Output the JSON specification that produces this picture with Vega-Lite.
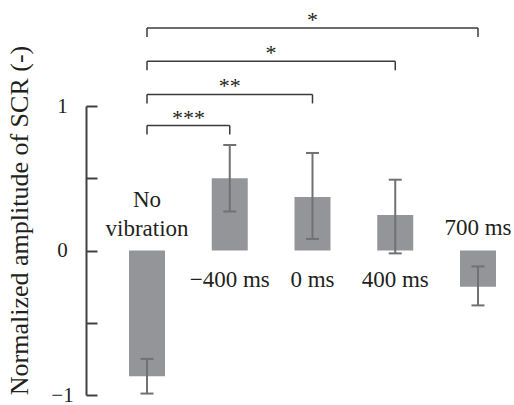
{
  "$schema": "https://vega.github.io/schema/vega-lite/v6.json",
  "width": 400,
  "height": 289,
  "autosize": {"type": "none"},
  "padding": {"left": 112, "top": 106, "right": 2, "bottom": 10},
  "background": "white",
  "config": {"view": {"stroke": null}, "font": "Liberation Serif"},
  "datasets": {
    "bars": [
      {"condition": "No\nvibration", "order": 1, "mean": -0.87, "lo": -0.99, "hi": -0.75},
      {"condition": "−400 ms", "order": 2, "mean": 0.5, "lo": 0.27, "hi": 0.73},
      {"condition": "0 ms", "order": 3, "mean": 0.37, "lo": 0.08, "hi": 0.675},
      {"condition": "400 ms", "order": 4, "mean": 0.245, "lo": -0.02, "hi": 0.49},
      {"condition": "700 ms", "order": 5, "mean": -0.25, "lo": -0.38, "hi": -0.11}
    ],
    "brackets": [
      {"from": 1, "to": 2, "level": 0.865, "stars": "***"},
      {"from": 1, "to": 3, "level": 1.08, "stars": "**"},
      {"from": 1, "to": 4, "level": 1.31, "stars": "*"},
      {"from": 1, "to": 5, "level": 1.54, "stars": "*"}
    ]
  },
  "layer": [
    {
      "data": {"name": "bars"},
      "mark": {"type": "bar", "width": 36, "color": "#939598"},
      "encoding": {
        "x": {"field": "order", "type": "quantitative", "scale": {"domain": [0.577, 5.411], "nice": false, "zero": false, "padding": 0}, "axis": null},
        "y": {
          "field": "mean", "type": "quantitative",
          "scale": {"domain": [-1, 1], "nice": false, "padding": 0},
          "axis": {
            "title": "Normalized amplitude of SCR (-)",
            "values": [-1, -0.5, 0, 0.5, 1],
            "labelExpr": "datum.value === 1 ? '1' : datum.value === 0 ? '0' : datum.value === -1 ? '−1' : ''",
            "offset": 26,
            "tickSize": -11,
            "labelPadding": 35,
            "labelAlign": "center",
            "labelFont": "Liberation Serif",
            "labelFontSize": 21,
            "labelColor": "#231f20",
            "grid": false,
            "domainColor": "#414042",
            "domainWidth": 2,
            "tickColor": "#414042",
            "tickWidth": 2,
            "titleFont": "Liberation Serif",
            "titleFontSize": 26,
            "titleFontWeight": "normal",
            "titleColor": "#231f20",
            "titleX": -59,
            "titleY": 114,
            "titleAngle": -90,
            "titleAlign": "center",
            "titleBaseline": "alphabetic",
            "titleLimit": 1000
          }
        }
      }
    },
    {
      "data": {"name": "bars"},
      "mark": {"type": "rule", "color": "#707173", "strokeWidth": 2},
      "encoding": {
        "x": {"field": "order", "type": "quantitative"},
        "y": {"field": "lo", "type": "quantitative"},
        "y2": {"field": "hi"}
      }
    },
    {
      "data": {"name": "bars"},
      "transform": [{"fold": ["lo", "hi"], "as": ["end", "val"]}],
      "mark": {"type": "tick", "orient": "horizontal", "size": 13, "thickness": 2, "color": "#707173", "opacity": 1},
      "encoding": {
        "x": {"field": "order", "type": "quantitative"},
        "y": {"field": "val", "type": "quantitative"}
      }
    },
    {
      "mark": {"type": "rule", "color": "#3a3a3c", "strokeWidth": 2},
      "encoding": {"y": {"datum": 0}, "x": {"value": 0}, "x2": {"value": "width"}}
    },
    {
      "data": {"name": "brackets"},
      "mark": {"type": "rule", "color": "#3a3a3c", "strokeWidth": 1.5},
      "encoding": {
        "x": {"field": "from", "type": "quantitative"},
        "x2": {"field": "to"},
        "y": {"field": "level", "type": "quantitative"}
      }
    },
    {
      "data": {"name": "brackets"},
      "transform": [{"fold": ["from", "to"], "as": ["side", "xpos"]}],
      "mark": {"type": "rule", "color": "#3a3a3c", "strokeWidth": 1.5, "y2Offset": 9},
      "encoding": {
        "x": {"field": "xpos", "type": "quantitative"},
        "y": {"field": "level", "type": "quantitative"},
        "y2": {"field": "level"}
      }
    },
    {
      "data": {"name": "brackets"},
      "transform": [{"fold": ["from", "to"], "as": ["side", "xpos"]}],
      "mark": {"type": "text", "fontSize": 22, "baseline": "alphabetic", "align": "center", "dy": -1, "color": "#231f20"},
      "encoding": {
        "x": {"aggregate": "mean", "field": "xpos", "type": "quantitative"},
        "y": {"field": "level", "type": "quantitative"},
        "text": {"field": "stars", "type": "nominal"}
      }
    },
    {
      "data": {"name": "bars"},
      "transform": [{"filter": "datum.mean > 0"}],
      "mark": {"type": "text", "fontSize": 23, "baseline": "alphabetic", "align": "center", "dy": 36, "color": "#231f20"},
      "encoding": {
        "x": {"field": "order", "type": "quantitative"},
        "y": {"datum": 0},
        "text": {"field": "condition", "type": "nominal"}
      }
    },
    {
      "data": {"name": "bars"},
      "transform": [{"filter": "datum.mean < 0 && indexof(datum.condition, '\\n') < 0"}],
      "mark": {"type": "text", "fontSize": 23, "baseline": "alphabetic", "align": "center", "dy": -16, "color": "#231f20"},
      "encoding": {
        "x": {"field": "order", "type": "quantitative"},
        "y": {"datum": 0},
        "text": {"field": "condition", "type": "nominal"}
      }
    },
    {
      "data": {"name": "bars"},
      "transform": [{"filter": "datum.mean < 0 && indexof(datum.condition, '\\n') >= 0"}],
      "mark": {"type": "text", "fontSize": 23, "baseline": "alphabetic", "align": "center", "dy": -44, "lineBreak": "\n", "lineHeight": 29.5, "color": "#231f20"},
      "encoding": {
        "x": {"field": "order", "type": "quantitative"},
        "y": {"datum": 0},
        "text": {"field": "condition", "type": "nominal"}
      }
    }
  ]
}
